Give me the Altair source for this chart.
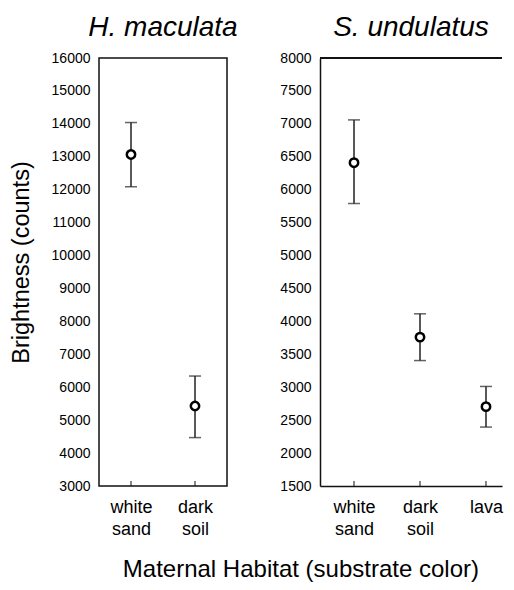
import altair as alt
import pandas as pd

FONT = "Liberation Sans"

left_cats = ["white sand", "dark soil"]
left_mean = [13070, 5430]
left_low = [12090, 4470]
left_high = [14040, 6340]

right_cats = ["white sand", "dark soil", "lava"]
right_mean = [6410, 3760, 2705]
right_low = [5790, 3405, 2395]
right_high = [7060, 4115, 3012]

left_ticks = list(range(3000, 16001, 1000))
right_ticks = list(range(1500, 8001, 500))

H = 428


def panel(cats, mean, low, high, title, domain, ticks, width, xscale, ytitle, open_right):
    df = pd.DataFrame({"cat": cats, "mean": mean, "low": low, "high": high})
    xaxis = alt.Axis(
        title=None, labelAngle=0, labelExpr="split(datum.label, ' ')",
        ticks=False, domain=open_right, domainColor="#111", domainWidth=1.5,
        labelFontSize=18, labelLineHeight=22, labelPadding=12,
        labelColor="black", labelFont=FONT,
    )
    x = alt.X("cat:N", sort=cats, scale=xscale, axis=xaxis)

    def yenc(field):
        return alt.Y(
            f"{field}:Q",
            scale=alt.Scale(domain=domain, nice=False, zero=False),
            axis=alt.Axis(
                values=ticks, format="d", ticks=False, grid=False, domain=open_right,
                domainColor="#111", domainWidth=1.5,
                labelFontSize=14, labelPadding=9, labelColor="black", labelFont=FONT,
                title=ytitle, titleFontSize=23.5, titleFont=FONT, titleFontWeight="normal",
                titleColor="black", titlePadding=18, titleY=H / 2 - 10,
            ),
        )

    base = alt.Chart(df).encode(x=x)
    bar = base.mark_rule(strokeWidth=1.5, color="#222").encode(y=yenc("low"), y2="high:Q")
    cap_lo = base.mark_tick(orient="horizontal", size=12, thickness=1.5, color="#222").encode(y=yenc("low"))
    cap_hi = base.mark_tick(orient="horizontal", size=12, thickness=1.5, color="#222").encode(y=yenc("high"))
    pts = base.mark_point(shape="circle", fill="white", stroke="black", strokeWidth=2.5,
                          size=70, opacity=1, fillOpacity=1).encode(y=yenc("mean"))
    xt = base.mark_rule(color="#111", strokeWidth=1).encode(y=alt.value(H), y2=alt.value(H - 5))
    layers = [bar, cap_lo, cap_hi, pts, xt]
    if open_right:
        top = alt.Chart(df).mark_rule(color="#111", strokeWidth=1.5).encode(
            x=alt.value(0), x2=alt.value(width), y=alt.value(0))
        layers.append(top)
        view = alt.ViewBackground(stroke="transparent")
    else:
        view = alt.ViewBackground(stroke="#111", strokeWidth=1.5)
    return alt.layer(*layers).properties(
        width=width, height=H, view=view,
        title=alt.TitleParams(title, font=FONT, fontSize=28, fontStyle="italic",
                              fontWeight="normal", color="black", offset=9, anchor="middle"),
    )


left = panel(left_cats, left_mean, left_low, left_high, "H. maculata", [3000, 16000],
             left_ticks, 128, alt.Scale(type="point", padding=0.5), "Brightness (counts)", False)
right = panel(right_cats, right_mean, right_low, right_high, "S. undulatus", [1500, 8000],
              right_ticks, 182, alt.Scale(type="point", padding=0.379, align=0.68), None, True)

chart = alt.hconcat(left, right, spacing=40).properties(
    title=alt.TitleParams("Maternal Habitat (substrate color)", orient="bottom", anchor="middle",
                          font=FONT, fontSize=24, fontWeight="normal", color="black", offset=19, dx=45),
    padding={"left": 0, "top": 5, "right": 0, "bottom": 0},
).configure_view(strokeWidth=1.5)

chart.save("out.html", embed_options={"renderer": "svg", "actions": False})
